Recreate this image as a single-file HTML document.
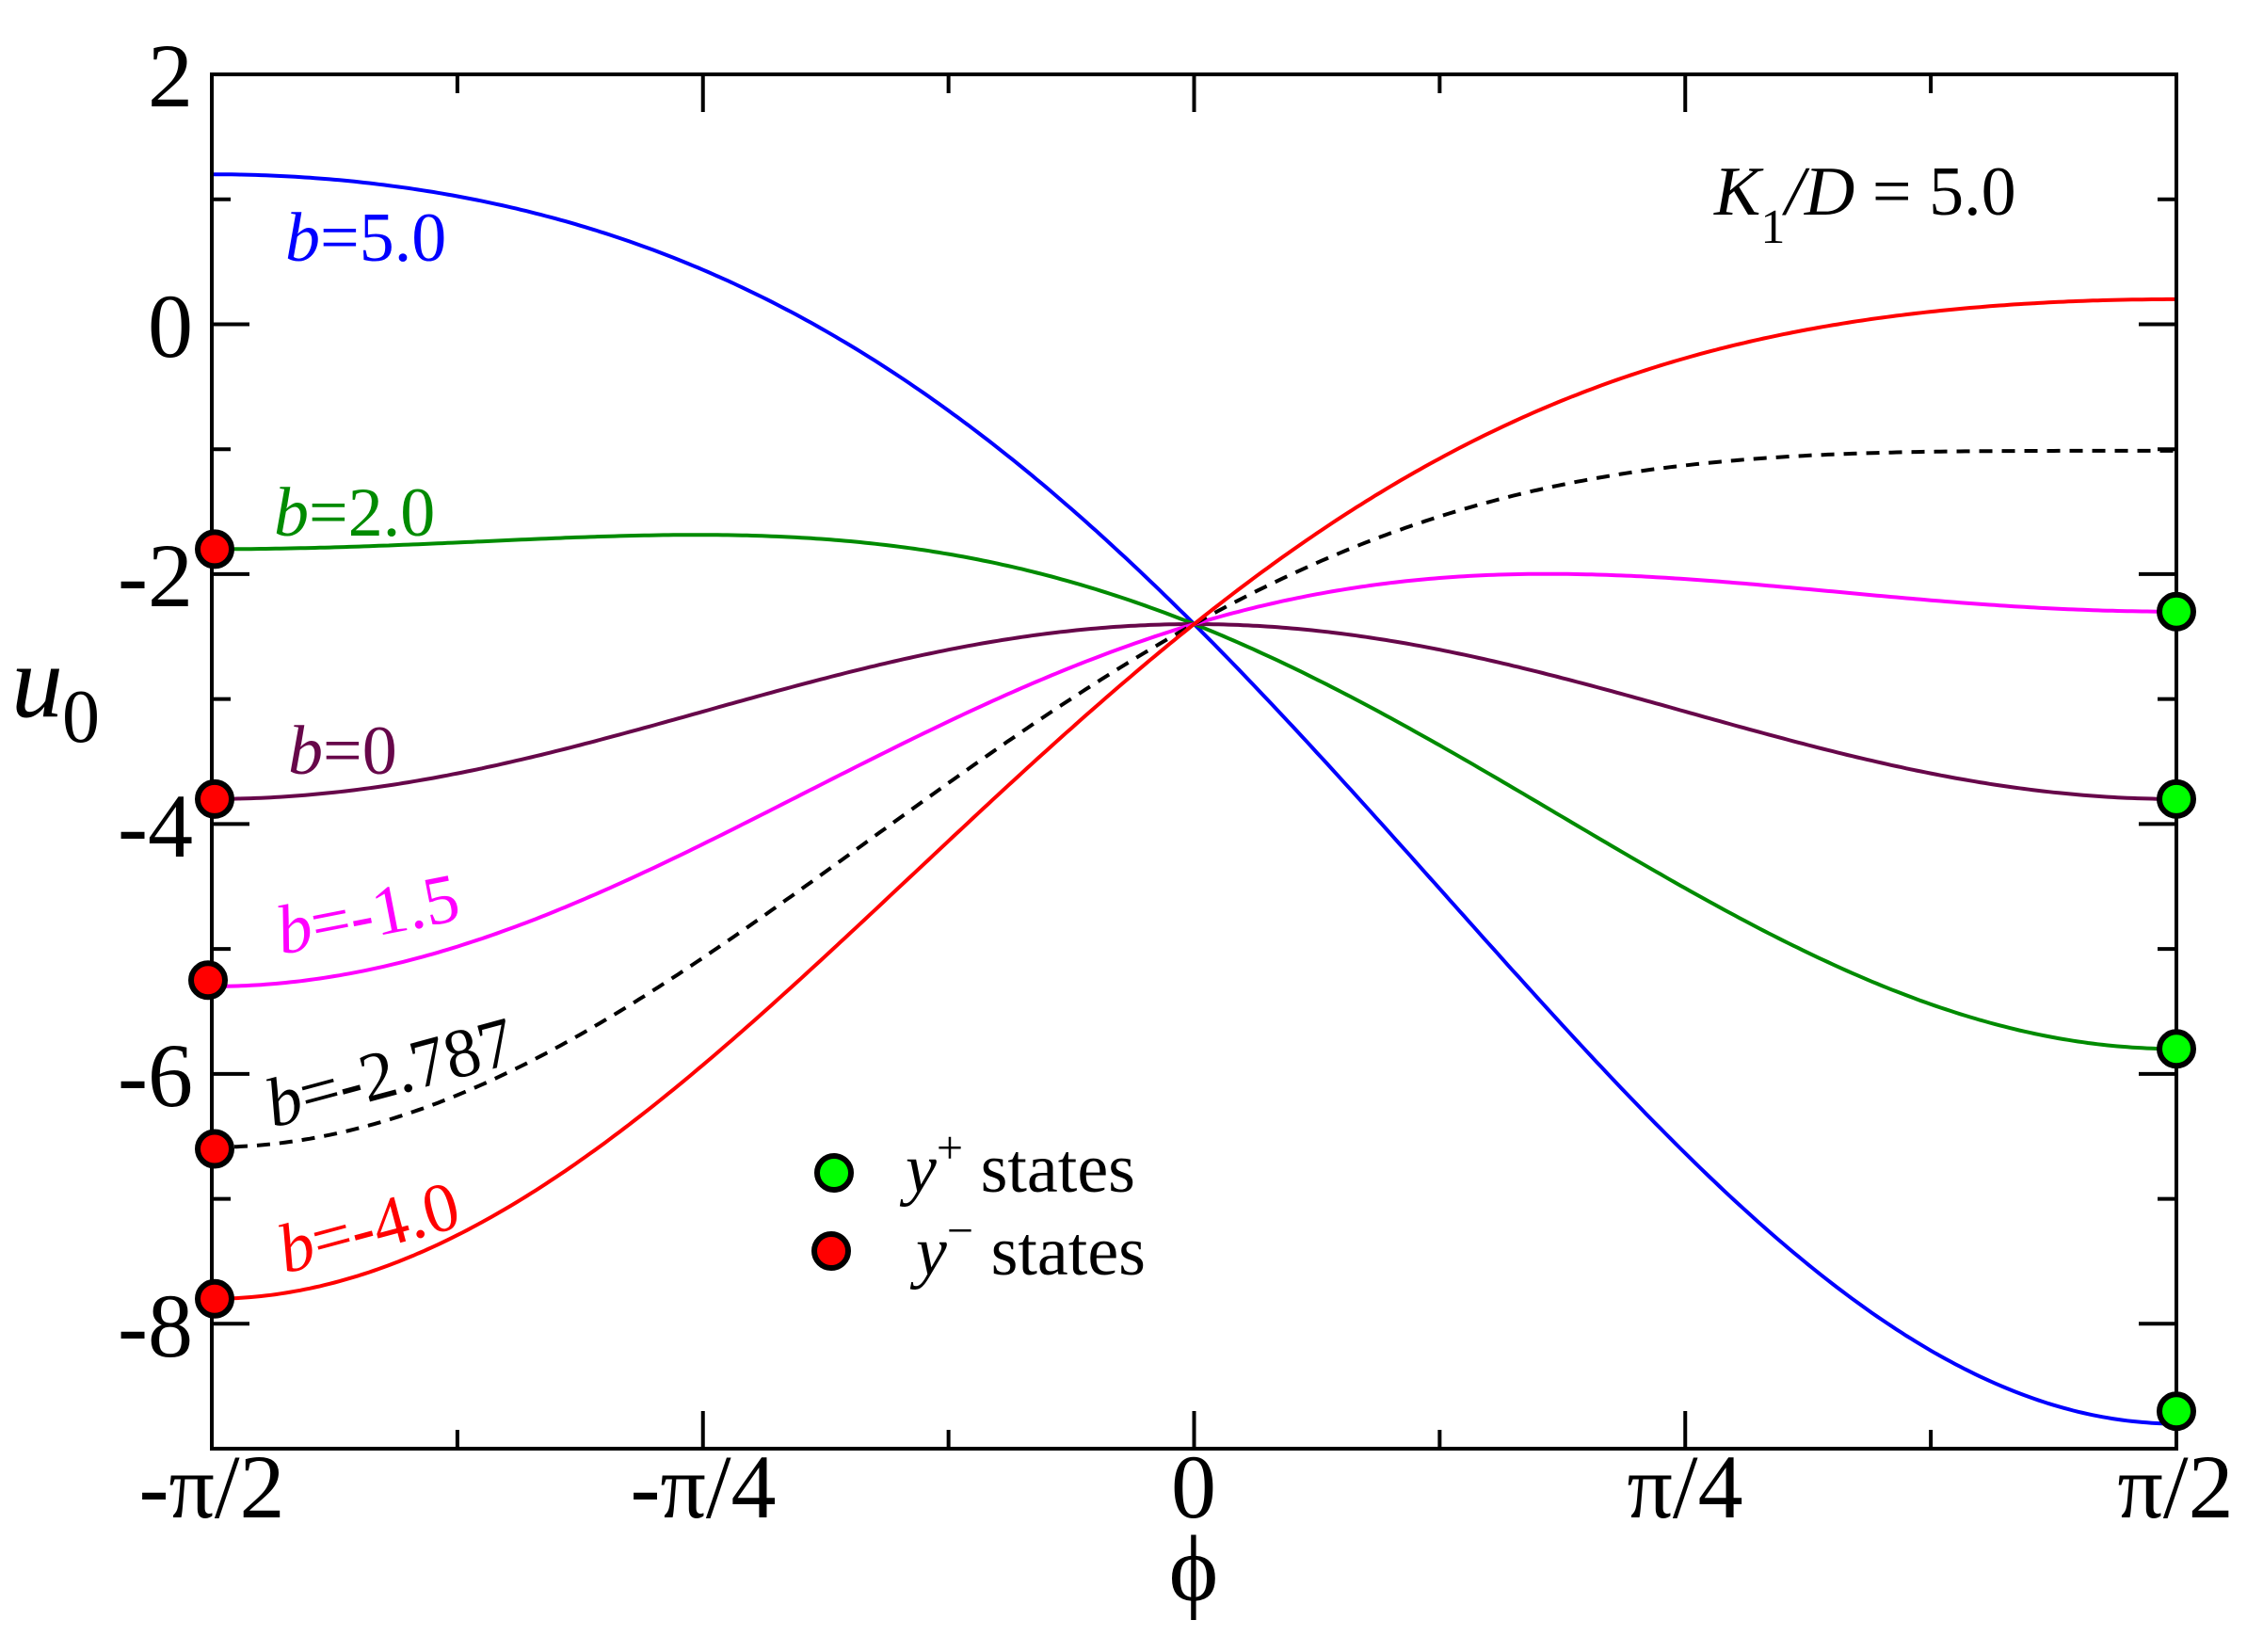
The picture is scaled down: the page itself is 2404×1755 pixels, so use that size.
<!DOCTYPE html>
<html><head><meta charset="utf-8"><style>
html,body{margin:0;padding:0;background:#fff}
svg, svg text, svg tspan{font-family:"Liberation Serif","Times New Roman","Times","Noto Serif CJK SC","DejaVu Serif",serif}
</style></head><body>
<svg id="s" width="2404" height="1750" viewBox="0 0 2404 1750" xmlns="http://www.w3.org/2000/svg">
<g id="curves" fill="none" stroke-width="4"></g>
<rect x="225" y="79" width="2087" height="1460" fill="none" stroke="#000" stroke-width="4"/>
<g id="ticks" stroke="#000" stroke-width="4"></g>
<g font-size="96" fill="#000">
<text x="205" y="113" text-anchor="end">2</text>
<text x="205" y="379" text-anchor="end">0</text>
<text x="205" y="644" text-anchor="end">-2</text>
<text x="205" y="910" text-anchor="end">-4</text>
<text x="205" y="1175" text-anchor="end">-6</text>
<text x="205" y="1441" text-anchor="end">-8</text>
<text x="225" y="1612" text-anchor="middle">-π/2</text>
<text x="747" y="1612" text-anchor="middle">-π/4</text>
<text x="1268" y="1612" text-anchor="middle">0</text>
<text x="1790" y="1612" text-anchor="middle">π/4</text>
<text x="2311" y="1612" text-anchor="middle">π/2</text>
<text x="1268" y="1700" text-anchor="middle" font-size="100">ϕ</text>
<text x="12" y="761" font-size="110" font-style="italic">u</text>
<text x="66" y="788" font-size="80">0</text>
</g>
<g font-size="74">
<text x="1821" y="228" fill="#000"><tspan font-style="italic">K</tspan><tspan font-size="52" dy="30">1</tspan><tspan dy="-30" font-style="italic">/D</tspan> = 5.0</text>
<text x="303" y="277" fill="#0000ff"><tspan font-style="italic">b</tspan>=5.0</text>
<text x="291" y="569" fill="#008b00"><tspan font-style="italic">b</tspan>=2.0</text>
<text x="306" y="822" fill="#67074a"><tspan font-style="italic">b</tspan>=0</text>
<text transform="translate(299,1014) rotate(-11)" fill="#ff00ff"><tspan font-style="italic">b</tspan>=-1.5</text>
<text transform="translate(290,1198) rotate(-15)" fill="#000"><tspan font-style="italic">b</tspan>=-2.787</text>
<text transform="translate(303,1353) rotate(-15)" fill="#ff0000"><tspan font-style="italic">b</tspan>=-4.0</text>
<text x="962" y="1266" fill="#000"><tspan font-style="italic">y</tspan><tspan font-size="50" dy="-30">+</tspan><tspan dy="30"> states</tspan></text>
<text x="973" y="1354" fill="#000"><tspan font-style="italic">y</tspan><tspan font-size="50" dy="-30">−</tspan><tspan dy="30"> states</tspan></text>
</g>
<g id="marks" stroke="#000" stroke-width="6"></g>
</svg>
<script>
var NS="http://www.w3.org/2000/svg";
function X(p){return 225+(p+Math.PI/2)/Math.PI*2087;}
function Y(u){return 79+(2-u)*132.73;}
var cur=document.getElementById("curves");
var series=[[5,"#0000ff"],[2,"#008b00"],[0,"#67074a"],[-1.5,"#ff00ff"],[-2.787,"#000",1],[-4,"#ff0000"]];
series.forEach(function(s){
 var d="";
 for(var i=0;i<=400;i++){var p=-Math.PI/2+Math.PI*i/400;var sn=Math.sin(p);var u=-2.4-1.4*sn*sn-s[0]*sn;
  d+=(i?"L":"M")+X(p).toFixed(1)+","+Y(u).toFixed(1);}
 var e=document.createElementNS(NS,"path");e.setAttribute("d",d);e.setAttribute("stroke",s[1]);
 if(s[2])e.setAttribute("stroke-dasharray","14,10");
 cur.appendChild(e);
});
var tk=document.getElementById("ticks");
function ln(a,b,c,d){var e=document.createElementNS(NS,"line");e.setAttribute("x1",a);e.setAttribute("y1",b);e.setAttribute("x2",c);e.setAttribute("y2",d);tk.appendChild(e);}
for(var i=0;i<=8;i++){var x=225+2087*i/8;var L=(i%2==0)?40:20;ln(x,1539,x,1539-L);ln(x,79,x,79+L);}
for(var v=-9;v<=2;v++){var y=Y(v);var L=(v%2==0)?40:20;ln(225,y,225+L,y);ln(2312,y,2312-L,y);}
var mk=document.getElementById("marks");
function c(x,y,f){var e=document.createElementNS(NS,"circle");e.setAttribute("cx",x);e.setAttribute("cy",y);e.setAttribute("r",18);e.setAttribute("fill",f);mk.appendChild(e);}
[-1.8,-3.8,-5.25,-6.6,-7.8].forEach(function(u,i){c(i==2?221:228,Y(u),"#ff0000");});
[-2.3,-3.8,-5.8,-8.7].forEach(function(u){c(2312,Y(u),"#00ff00");});
c(886,1246,"#00ff00");c(883,1329,"#ff0000");
</script>
</body></html>
